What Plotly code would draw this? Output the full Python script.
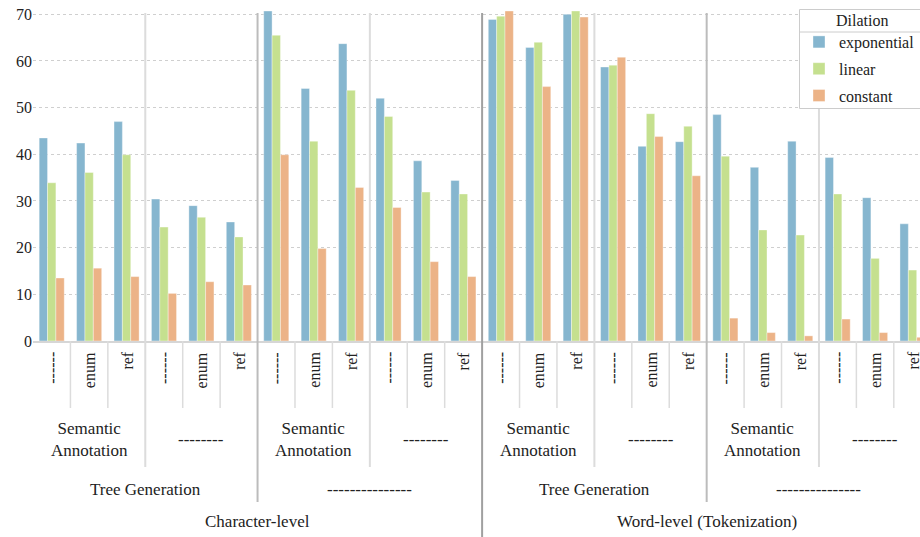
import plotly.graph_objects as go

# ---- data ----
leaf_labels = ["------", "enum", "ref"] * 8
mid_labels = ["Semantic<br>Annotation", "--------"] * 4
level2_labels = ["Tree Generation", "---------------"] * 2
top_labels = ["Character-level", "Word-level (Tokenization)"]

series_names = ["exponential", "linear", "constant"]
exponential = [43.5, 42.4, 47.0, 30.4, 29.0, 25.5,
               70.7, 54.1, 63.7, 52.0, 38.6, 34.4,
               68.9, 62.9, 70.0, 58.7, 41.7, 42.7,
               48.5, 37.2, 42.8, 39.3, 30.7, 25.1]
linear = [33.9, 36.1, 39.9, 24.4, 26.5, 22.3,
          65.5, 42.8, 53.7, 48.1, 31.9, 31.5,
          69.6, 64.0, 70.7, 59.1, 48.7, 46.0,
          39.6, 23.8, 22.7, 31.5, 17.7, 15.2]
constant = [13.5, 15.6, 13.8, 10.2, 12.7, 12.0,
            39.9, 19.8, 32.9, 28.6, 17.0, 13.8,
            70.7, 54.5, 69.4, 60.8, 43.8, 35.4,
            4.9, 1.8, 1.1, 4.7, 1.8, 0.8]
y_ticks = [0, 10, 20, 30, 40, 50, 60, 70]
legend_title = "Dilation"

colors = ["#86b6cf", "#c5e08f", "#ecb387"]
FONT = "Liberation Serif, DejaVu Serif, serif"
TXT = "#222222"

x = list(range(len(leaf_labels)))
fig = go.Figure()
for name, vals, col in zip(series_names, [exponential, linear, constant], colors):
    fig.add_trace(go.Bar(
        x=x, y=vals, name=name, legendgroup=name,
        marker=dict(color=col, line=dict(color="rgba(255,255,255,0.6)", width=0.6)),
    ))

PLOT_TOP_PX = 11
AXIS_PX = 341
PLOT_L = 33
W = 920 - PLOT_L
H = AXIS_PX - PLOT_TOP_PX

def py(px):
    return (AXIS_PX - px) / H

def pxx(px):
    return (px - PLOT_L) / W

shapes = []
n = len(leaf_labels)
for i in range(n - 1):
    b = i + 0.5
    k = i + 1
    if k % 12 == 0:
        shapes.append(dict(type="line", xref="x", yref="paper", x0=b, x1=b,
                           y0=py(13), y1=py(540), line=dict(color="#a0a0a0", width=2)))
    elif k % 6 == 0:
        shapes.append(dict(type="line", xref="x", yref="paper", x0=b, x1=b,
                           y0=py(13), y1=py(502), line=dict(color="#bcbcbc", width=2)))
    elif k % 3 == 0:
        shapes.append(dict(type="line", xref="x", yref="paper", x0=b, x1=b,
                           y0=py(13), y1=py(467), line=dict(color="#dcdcdc", width=2)))
    else:
        shapes.append(dict(type="line", xref="x", yref="paper", x0=b, x1=b,
                           y0=0, y1=py(408), line=dict(color="#dcdcdc", width=1.5)))

# legend frame, title separator
shapes.append(dict(type="rect", xref="paper", yref="paper", layer="above",
                   x0=pxx(799.5), x1=pxx(925), y0=py(108.5), y1=py(9.5),
                   fillcolor="white", line=dict(color="#cccccc", width=1)))
shapes.append(dict(type="line", xref="paper", yref="paper", layer="above",
                   x0=pxx(799.5), x1=pxx(925), y0=py(32), y1=py(32),
                   line=dict(color="#cccccc", width=1)))

annotations = []
# leaf labels (rotated), drawn at the category positions
for i, lab in enumerate(leaf_labels):
    annotations.append(dict(x=x[i], y=py(350), xref="x", yref="paper", text=lab,
                            textangle=-90, showarrow=False,
                            font=dict(family=FONT, size=16, color=TXT),
                            xanchor="center", yanchor="top"))
for j, lab in enumerate(mid_labels):
    annotations.append(dict(x=j * 3 + 1, y=py(439), xref="x", yref="paper", text=lab,
                            showarrow=False, font=dict(family=FONT, size=17, color=TXT),
                            xanchor="center", yanchor="middle"))
for j, lab in enumerate(level2_labels):
    annotations.append(dict(x=j * 6 + 2.5, y=py(489), xref="x", yref="paper", text=lab,
                            showarrow=False, font=dict(family=FONT, size=17, color=TXT),
                            xanchor="center", yanchor="middle"))
for j, lab in enumerate(top_labels):
    annotations.append(dict(x=j * 12 + 5.5, y=py(521), xref="x", yref="paper", text=lab,
                            showarrow=False, font=dict(family=FONT, size=17, color=TXT),
                            xanchor="center", yanchor="middle"))
annotations.append(dict(x=pxx(862), y=py(21), xref="paper", yref="paper", text=legend_title,
                        showarrow=False, font=dict(family=FONT, size=16, color=TXT),
                        xanchor="center", yanchor="middle"))

fig.update_layout(
    width=920, height=537,
    margin=dict(l=PLOT_L, r=0, t=PLOT_TOP_PX, b=537 - AXIS_PX, pad=0),
    plot_bgcolor="white", paper_bgcolor="white",
    barmode="group", bargap=0.33, bargroupgap=0,
    font=dict(family=FONT, size=16, color=TXT),
    shapes=shapes, annotations=annotations,
    legend=dict(
        x=pxx(799), xanchor="left", y=py(25), yanchor="top",
        bgcolor="rgba(0,0,0,0)", borderwidth=0,
        font=dict(family=FONT, size=16, color=TXT), tracegroupgap=3,
        traceorder="grouped",
    ),
    showlegend=True,
)
fig.update_xaxes(
    range=[-0.5, 23.2], tickmode="array", tickvals=x, showticklabels=False,
    ticks="", showgrid=False, zeroline=False,
    showline=True, linecolor="#d6d6d6", linewidth=2,
)
fig.update_yaxes(
    range=[0, 70.7], tickmode="array", tickvals=y_ticks, ticks="",
    showgrid=True, gridcolor="#cfcfcf", griddash="dot", gridwidth=1,
    zeroline=False, showline=False,
    tickfont=dict(family=FONT, size=16, color=TXT),
)

fig.write_html("out.html", config={"displayModeBar": False},
               post_script="document.body.style.margin='0';")
